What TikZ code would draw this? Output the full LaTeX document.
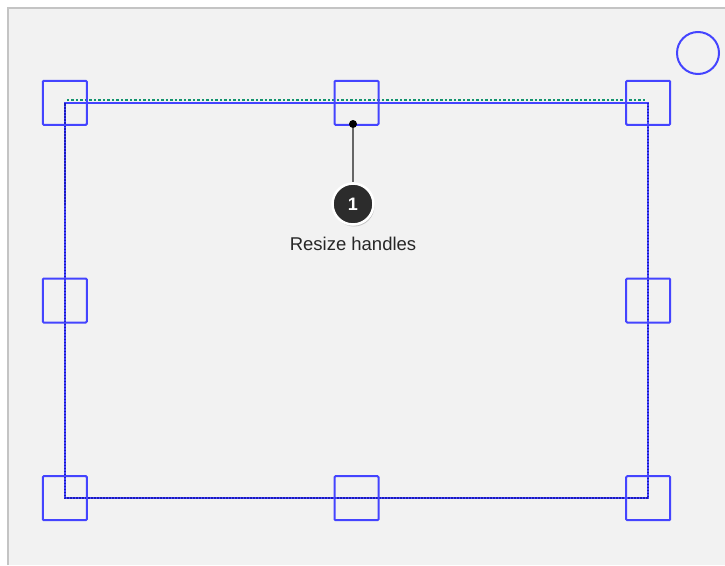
\documentclass[tikz,border=0pt]{standalone}
\usepackage{fontspec}
\setmainfont{Liberation Sans}
\usetikzlibrary{positioning, shadows}

\definecolor{canvasgray}{HTML}{F2F2F2}
\definecolor{bordergray}{HTML}{C4C4C4}
\definecolor{handleblue}{HTML}{4444FF}
\definecolor{dotblue}{HTML}{1C1CB8}
\definecolor{dotgreen}{HTML}{12946E}
\definecolor{badgegray}{HTML}{2C2C2C}

\begin{document}
\begin{tikzpicture}[
  x=1pt, y=-1pt,
  handle/.style={draw=handleblue, line width=2pt, rounded corners=1pt, minimum size=44pt, inner sep=0pt},
  frame/.style={minimum width=583pt, minimum height=395pt, inner sep=0pt},
  tipdot/.style={circle, fill=black, minimum size=8pt, inner sep=0pt},
  badge/.style={circle, fill=badgegray, draw=white, line width=2.5pt, minimum size=41pt, inner sep=0pt,
    text=white, font=\bfseries\fontsize{18}{18}\selectfont,
    drop shadow={opacity=0.4, shadow xshift=1pt, shadow yshift=-2pt}},
  caption/.style={font=\fontsize{18.5}{22}\selectfont, text=black!85, inner sep=0pt}
]
\useasboundingbox (0,0) rectangle (725,565);
\fill[canvasgray] (8,8) rectangle (725,565);
\draw[bordergray, line width=1.5pt] (8,565) -- (8,8) -- (725,8);

% selection box
\node[frame] (sel) at (356.5,300.5) {};
\draw[handleblue, line width=2pt] (sel.north west) -- (sel.north east) -- (sel.south east) -- (sel.south west) -- cycle;
\draw[dotblue, dash pattern=on 1.5pt off 1.5pt, line width=2pt] (sel.north east) -- (sel.south east) -- (sel.south west) -- (sel.north west);
\draw[dotgreen, dash pattern=on 2.5pt off 2pt, line width=2.5pt] ([shift={(2,-3)}]sel.north west) -- ([shift={(-2,-3)}]sel.north east);

% handles
\foreach \a/\n in {north west/nw, north/n, north east/ne, west/w, east/e, south west/sw, south/s, south east/se}
  \node[handle] (h\n) at (sel.\a) {};
\node[handle, circle, minimum size=42pt] (rot) at (698,53) {};

% callout
\node[tipdot] (tip) at (353,124) {};
\node[badge] (badge) at (353,204) {1};
\draw[black!60, line width=1.5pt] (tip) -- (badge);
\node[caption] (lbl) at (353,244) {Resize handles};
\end{tikzpicture}
\end{document}
